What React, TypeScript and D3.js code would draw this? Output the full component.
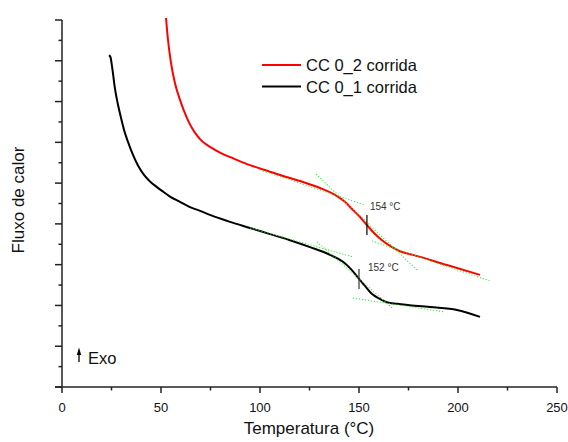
import React from "react";
import * as d3 from "d3";

const W = 568;
const H = 442;

// Series: temperature (°C) and heat flow (arbitrary units)
const redTemp = [52.53, 53.54, 55.05, 57.07, 59.6, 61.62, 63.64, 65.66, 67.68, 69.7, 72.22, 74.75, 79.8, 87.37, 94.95, 102.53, 110.1, 120.2, 130.3, 137.88, 142.93, 146.97, 150.51, 154.04, 158.08, 161.62, 165.66, 170.71, 177.27, 194.44, 211.11];
const redFlow = [9.05, 8.51, 7.95, 7.45, 7.04, 6.77, 6.54, 6.35, 6.2, 6.08, 5.97, 5.89, 5.75, 5.59, 5.44, 5.32, 5.2, 5.05, 4.88, 4.71, 4.54, 4.34, 4.17, 3.97, 3.75, 3.6, 3.46, 3.33, 3.24, 2.99, 2.75];

const blackTemp = [23.74, 24.49, 25.25, 26.77, 28.28, 29.8, 31.31, 33.33, 35.86, 38.38, 41.41, 44.44, 47.47, 50.51, 54.55, 59.6, 64.65, 69.7, 74.75, 84.85, 94.95, 105.05, 115.15, 125.25, 135.35, 141.92, 145.96, 150.0, 153.03, 156.57, 160.61, 164.14, 169.19, 185.86, 199.49, 211.11];
const blackFlow = [8.14, 8.09, 7.87, 7.31, 6.92, 6.6, 6.31, 6.01, 5.69, 5.43, 5.2, 5.04, 4.92, 4.81, 4.67, 4.54, 4.41, 4.32, 4.22, 4.05, 3.9, 3.75, 3.6, 3.43, 3.24, 3.07, 2.89, 2.65, 2.48, 2.28, 2.16, 2.08, 2.04, 1.96, 1.89, 1.72];

// Tangent construction lines: [t1, v1, t2, v2]
const redTangents = [
  [101.5, 5.3, 152.5, 4.47],
  [128.3, 5.22, 179.3, 2.87],
  [156.6, 3.58, 216.2, 2.6],
];
const blackTangents = [
  [94.9, 3.9, 147.0, 3.19],
  [128.8, 3.56, 166.7, 1.94],
  [147.0, 2.18, 193.4, 1.84],
];

// Glass transition markers
const redTg = { t: 154.0, v: 3.97, label: "154 °C" };
const blackTg = { t: 150.0, v: 2.65, label: "152 °C" };

const seriesNames = ["CC 0_2 corrida", "CC 0_1 corrida"];
const seriesColors = ["#ff0000", "#000000"];
const xTicks = [0, 50, 100, 150, 200, 250];
const xMinor = [25, 75, 125, 175, 225];
const yMajor = [0, 1, 2, 3, 4, 5, 6, 7, 8, 9];
const yMinor = [0.5, 1.5, 2.5, 3.5, 4.5, 5.5, 6.5, 7.5, 8.5];

const FONT = "Arial, 'Liberation Sans', sans-serif";

export default function App() {
  const x = d3.scaleLinear().domain([0, 250]).range([62, 557]);
  const y = d3.scaleLinear().domain([0, 9]).range([387, 20]);

  const line = d3
    .line<[number, number]>()
    .x((d) => x(d[0]))
    .y((d) => y(d[1]))
    .curve(d3.curveMonotoneX);

  const redPts = redTemp.map((t, i) => [t, redFlow[i]] as [number, number]);
  const blackPts = blackTemp.map((t, i) => [t, blackFlow[i]] as [number, number]);

  const axisColor = "#222";

  const tangent = (tg: number[], i: number, k: string) => (
    <line
      key={k + i}
      x1={x(tg[0])}
      y1={y(tg[1])}
      x2={x(tg[2])}
      y2={y(tg[3])}
      stroke="#22ee22"
      strokeWidth={1.1}
      strokeDasharray="1,2"
    />
  );

  return (
    <svg
      width={W}
      height={H}
      style={{ position: "absolute", left: 0, top: 0, background: "#fff" }}
      fontFamily={FONT}
    >
      <defs>
        <clipPath id="plot">
          <rect x={62} y={18} width={495} height={369} />
        </clipPath>
      </defs>

      {/* curves */}
      <g clipPath="url(#plot)">
        <path d={line(blackPts) || ""} fill="none" stroke="#000" strokeWidth={2} strokeLinejoin="round" />
        <path d={line(redPts) || ""} fill="none" stroke="#ff0000" strokeWidth={2} strokeLinejoin="round" />
        {redTangents.map((t, i) => tangent(t, i, "r"))}
        {blackTangents.map((t, i) => tangent(t, i, "b"))}
      </g>

      {/* Tg markers */}
      <line x1={x(redTg.t)} x2={x(redTg.t)} y1={y(redTg.v) - 10} y2={y(redTg.v) + 10} stroke="#000" strokeWidth={1.2} />
      <text x={x(redTg.t) + 3} y={y(redTg.v) - 15} fontSize={10} fill="#333">
        {redTg.label}
      </text>
      <line x1={x(blackTg.t)} x2={x(blackTg.t)} y1={y(blackTg.v) - 10} y2={y(blackTg.v) + 10} stroke="#333" strokeWidth={1.2} />
      <text x={x(blackTg.t) + 9} y={y(blackTg.v) - 8} fontSize={10} fill="#333">
        {blackTg.label}
      </text>

      {/* axes */}
      <line x1={62} x2={62} y1={20} y2={387} stroke={axisColor} strokeWidth={1.5} />
      <line x1={55} x2={557} y1={387} y2={387} stroke={axisColor} strokeWidth={1.5} />
      {yMajor.map((v) => (
        <line key={"ym" + v} x1={55} x2={62} y1={y(v)} y2={y(v)} stroke={axisColor} strokeWidth={1.5} />
      ))}
      {yMinor.map((v) => (
        <line key={"yn" + v} x1={58.5} x2={62} y1={y(v)} y2={y(v)} stroke={axisColor} strokeWidth={1.5} />
      ))}
      {xTicks.map((t) => (
        <g key={"xt" + t}>
          <line x1={x(t)} x2={x(t)} y1={387} y2={393} stroke={axisColor} strokeWidth={1.5} />
          <text x={x(t)} y={411.5} fontSize={13} textAnchor="middle" fill="#111">
            {t}
          </text>
        </g>
      ))}
      {xMinor.map((t) => (
        <line key={"xn" + t} x1={x(t)} x2={x(t)} y1={387} y2={390.5} stroke={axisColor} strokeWidth={1.5} />
      ))}

      {/* axis titles */}
      <text x={309} y={434} fontSize={17} textAnchor="middle" fill="#111">
        Temperatura (°C)
      </text>
      <text
        transform="translate(24,200) rotate(-90)"
        fontSize={17}
        textAnchor="middle"
        fill="#111"
      >
        Fluxo de calor
      </text>

      {/* legend */}
      {seriesNames.map((n, i) => (
        <g key={n}>
          <line x1={262} x2={301} y1={65 + i * 21.5} y2={65 + i * 21.5} stroke={seriesColors[i]} strokeWidth={2} />
          <text x={306} y={71 + i * 21.5} fontSize={16.5} fill="#111">
            {n}
          </text>
        </g>
      ))}

      {/* Exo indicator */}
      <line x1={79} x2={79} y1={353} y2={362} stroke="#000" strokeWidth={1.3} />
      <path d="M79,347.5 L76.8,355 L81.2,355 Z" fill="#000" />
      <text x={88} y={364} fontSize={16.5} fill="#111">
        Exo
      </text>
    </svg>
  );
}
